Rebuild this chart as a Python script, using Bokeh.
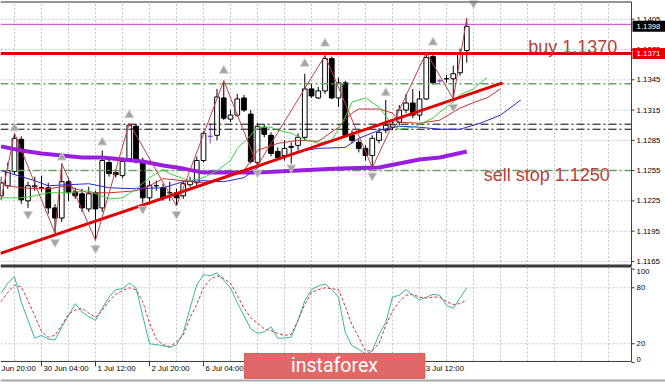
from bokeh.plotting import figure
from bokeh.models import Range1d
from bokeh.core.properties import value
from bokeh.embed import file_html
from bokeh.resources import INLINE

# ---------------- data (H4 bars, index 0 = 29 Jun 04:00) ----------------
bars = list(range(70))
opens = [1.1230, 1.1240, 1.1254, 1.1286, 1.1225, 1.1239, 1.1238, 1.1238, 1.1218, 1.1208,
         1.1244, 1.1234, 1.1232, 1.1217, 1.1233, 1.1218, 1.1263, 1.1253, 1.1250, 1.1267,
         1.1299, 1.1265, 1.1228, 1.1240, 1.1238, 1.1233, 1.1233, 1.1230, 1.1241, 1.1243,
         1.1265, 1.1289, 1.1290, 1.1327, 1.1306, 1.1310, 1.1327, 1.1311, 1.1263, 1.1298,
         1.1290, 1.1274, 1.1270, 1.1278, 1.1280, 1.1288, 1.1336, 1.1327, 1.1334, 1.1366,
         1.1327, 1.1342, 1.1290, 1.1283, 1.1277, 1.1270, 1.1285, 1.1295, 1.1298, 1.1303,
         1.1315, 1.1322, 1.1310, 1.1326, 1.1368, 1.1344, 1.1346, 1.1346, 1.1352, 1.1374]
highs = [1.1249, 1.1263, 1.1292, 1.1289, 1.1244, 1.1249, 1.1250, 1.1243, 1.1222, 1.1262,
         1.1248, 1.1238, 1.1237, 1.1239, 1.1235, 1.1275, 1.1267, 1.1256, 1.1267, 1.1302,
         1.1301, 1.1268, 1.1245, 1.1245, 1.1242, 1.1244, 1.1237, 1.1245, 1.1249, 1.1269,
         1.1294, 1.1302, 1.1336, 1.1344, 1.1315, 1.1331, 1.1330, 1.1315, 1.1302, 1.1301,
         1.1293, 1.1278, 1.1285, 1.1283, 1.1292, 1.1351, 1.1341, 1.1338, 1.1369, 1.1368,
         1.1347, 1.1344, 1.1295, 1.1286, 1.1280, 1.1290, 1.1297, 1.1325, 1.1305, 1.1320,
         1.1331, 1.1336, 1.1334, 1.1372, 1.1371, 1.1346, 1.1350, 1.1359, 1.1376, 1.1406]
lows = [1.1226, 1.1237, 1.1251, 1.1222, 1.1218, 1.1235, 1.1234, 1.1212, 1.1193, 1.1204,
        1.1225, 1.1227, 1.1214, 1.1214, 1.1186, 1.1214, 1.1249, 1.1248, 1.1247, 1.1265,
        1.1262, 1.1223, 1.1225, 1.1235, 1.1225, 1.1225, 1.1220, 1.1227, 1.1239, 1.1240,
        1.1263, 1.1282, 1.1285, 1.1305, 1.1303, 1.1308, 1.1313, 1.1262, 1.1260, 1.1288,
        1.1269, 1.1265, 1.1265, 1.1262, 1.1275, 1.1285, 1.1327, 1.1326, 1.1331, 1.1326,
        1.1318, 1.1288, 1.1282, 1.1273, 1.1265, 1.1258, 1.1282, 1.1292, 1.1295, 1.1300,
        1.1312, 1.1307, 1.1305, 1.1325, 1.1340, 1.1342, 1.1342, 1.1326, 1.1349, 1.1362]
closes = [1.1243, 1.1255, 1.1287, 1.1226, 1.1240, 1.1240, 1.1238, 1.1218, 1.1208, 1.1244,
          1.1233, 1.1230, 1.1218, 1.1232, 1.1217, 1.1265, 1.1252, 1.1251, 1.1264, 1.1300,
          1.1265, 1.1228, 1.1240, 1.1240, 1.1228, 1.1233, 1.1228, 1.1242, 1.1245, 1.1265,
          1.1292, 1.1289, 1.1328, 1.1307, 1.1310, 1.1326, 1.1315, 1.1264, 1.1299, 1.1291,
          1.1272, 1.1268, 1.1277, 1.1279, 1.1288, 1.1336, 1.1329, 1.1334, 1.1366, 1.1327,
          1.1342, 1.1290, 1.1285, 1.1277, 1.1270, 1.1287, 1.1293, 1.1300, 1.1301, 1.1315,
          1.1322, 1.1310, 1.1326, 1.1367, 1.1342, 1.1344, 1.1346, 1.1351, 1.1372, 1.1398]
# bars drawn in the chart's line colour (flat bars)
flat_bars = [31, 65]

# Alligator-style moving averages (bar index, price)
ma_blue_x = [0, 3, 5, 7, 10, 13, 16, 20, 24, 27, 30, 33, 36, 38, 41, 44, 47, 51, 53, 56, 59, 62, 65, 68, 71, 74, 77]
ma_blue_y = [1.1255, 1.1249, 1.1245, 1.1240, 1.1241, 1.1242, 1.1238, 1.1237, 1.1238, 1.1244, 1.1245, 1.1244,
             1.1248, 1.1258, 1.1267, 1.1274, 1.1277, 1.1278, 1.1287, 1.1295, 1.1299, 1.1298, 1.1296, 1.1296,
             1.1302, 1.1310, 1.1325]
ma_red_x = [0, 1, 3, 5, 7, 10, 11, 13, 16, 20, 22, 24, 27, 30, 33, 36, 38, 41, 44, 47, 50, 52, 53, 56, 58, 59,
            62, 65, 68, 71, 72, 74]
ma_red_y = [1.1243, 1.1240, 1.1238, 1.1237, 1.1237, 1.1240, 1.1237, 1.1233, 1.1233, 1.1235, 1.1240, 1.1247,
            1.1245, 1.1243, 1.1248, 1.1255, 1.1275, 1.1282, 1.1285, 1.1284, 1.1298, 1.1312, 1.1316, 1.1316,
            1.1312, 1.1303, 1.1302, 1.1305, 1.1317, 1.1325, 1.1327, 1.1336]
ma_green_x = [0, 3, 5, 7, 10, 13, 16, 18, 20, 22, 24, 25, 27, 28, 30, 32, 34, 35, 37, 38, 40, 41, 43, 45, 47,
              49, 51, 52, 54, 56, 58, 59, 61, 62, 64, 65, 67, 68, 70, 71, 72]
ma_green_y = [1.1228, 1.1228, 1.1230, 1.1233, 1.1233, 1.1235, 1.1227, 1.1228, 1.1237, 1.1248, 1.1256, 1.1252,
              1.1247, 1.1245, 1.1248, 1.1255, 1.1265, 1.1277, 1.1290, 1.1298, 1.1298, 1.1295, 1.1292, 1.1286,
              1.1282, 1.1285, 1.1308, 1.1323, 1.1327, 1.1318, 1.1300, 1.1296, 1.1298, 1.1301, 1.1307, 1.1313,
              1.1323, 1.1330, 1.1336, 1.1342, 1.1347]
ma_slow_x = [0, 3, 6, 9, 12, 15, 18, 21, 24, 27, 30, 33, 38, 44, 50, 56, 59, 62, 65, 69]
ma_slow_y = [1.1279, 1.1275, 1.1272, 1.1270, 1.1268, 1.1268, 1.1266, 1.1264, 1.1260, 1.1257, 1.1253, 1.1253,
             1.1253, 1.1255, 1.1257, 1.1258, 1.1262, 1.1266, 1.1268, 1.1274]

# ZigZag swing points
zz_x = [0, 2, 8, 9, 14, 19, 26, 33, 38, 48, 55, 63, 67, 69]
zz_y = [1.1226, 1.1292, 1.1193, 1.1262, 1.1186, 1.1302, 1.1220, 1.1344, 1.1260, 1.1369, 1.1258, 1.1372,
        1.1326, 1.1406]

# Fractal arrows
fr_up_x = [2, 9, 15, 19, 33, 45, 48, 57, 64]
fr_up_y = [1.1297, 1.1268, 1.1283, 1.1310, 1.1354, 1.1361, 1.1381, 1.1332, 1.1382]
fr_dn_x = [4, 8, 14, 21, 26, 38, 43, 55, 67, 70]
fr_dn_y = [1.1212, 1.1184, 1.1178, 1.1217, 1.1212, 1.1253, 1.1258, 1.1250, 1.1318, 1.1421]

# Trend line and levels
trend_x = [-0.07, 74.3]
trend_y = [1.1173, 1.1342]
level_bid = 1.1398
level_magenta = 1.1400
level_buy = 1.1371
level_green_hi = 1.1341
level_black = [1.1301, 1.1296]
level_green_lo = 1.1255
price_ticks = [1.1165, 1.1195, 1.1225, 1.1255, 1.1285, 1.1315, 1.1345, 1.1375, 1.1405]
price_labels = ["1.1165", "1.1195", "1.1225", "1.1255", "1.1285", "1.1315", "1.1345", "1.1375", "1.1405"]

# Stochastic oscillator
stoch_k = [74, 85, 92, 65, 45, 26, 29, 25, 24, 38, 50, 63, 54, 49, 45, 58, 70, 78, 79, 85,
           80, 50, 20, 19, 18, 16, 19, 32, 58, 83, 94, 93, 96, 88, 80, 64, 50, 36, 31, 33,
           38, 26, 26, 27, 45, 66, 78, 82, 84, 78, 70, 32, 18, 14, 9, 12, 30, 43, 70, 72,
           78, 72, 67, 70, 73, 72, 61, 58, 69, 80]
stoch_d = [65, 75, 83, 81, 66, 50, 33, 27, 29, 40, 52, 56, 58, 53, 48, 56, 66, 73, 77, 80,
           78, 65, 42, 25, 19, 17, 22, 29, 48, 62, 80, 89, 93, 90, 85, 72, 58, 48, 42, 36,
           34, 31, 29, 30, 45, 62, 75, 78, 80, 79, 78, 60, 40, 27, 12, 13, 20, 40, 55, 65,
           72, 73, 70, 69, 70, 70, 65, 62, 63, 67]
stoch_levels = [20, 80]
time_ticks = [6, 14, 22, 30, 38, 46, 54, 62]
time_labels = ["30 Jun 04:00", "1 Jul 12:00", "2 Jul 20:00", "6 Jul 04:00",
               "7 Jul 12:00", "8 Jul 20:00", "10 Jul 04:00", "13 Jul 12:00"]
first_time_label = "Jun 20:00"

# ---------------- layout constants (positions, not data) ----------------
FONT = "Liberation Sans"
GRID = "#c4c4c4"
BORDER = "#3a3a3a"
X0, XR, XEND = -0.074, 93.41, 98.44          # left edge, chart right border, canvas right edge (bars)
PR_TOP, PR_BOT = 1.14221, 1.11605            # price panel borders
ST_TOP, ST_BOT = 101.6, 1.0                  # stochastic panel borders
AX_LABEL_X = 94.15
vgrid = list(range(2, 92, 4))

p = figure(width=665, height=384, output_backend="svg", toolbar_location=None,
           x_range=Range1d(X0, XEND), y_range=Range1d(1.10430, 1.14236),
           x_axis_location=None, y_axis_location=None, min_border=0)
p.extra_y_ranges = {"stoch": Range1d(-23.7, 388.0)}
p.grid.visible = False
p.outline_line_color = None
p.background_fill_color = "white"
p.border_fill_color = "white"

# ---- grids ----
p.segment(x0=vgrid, y0=[PR_BOT] * len(vgrid), x1=vgrid, y1=[PR_TOP] * len(vgrid),
          line_color=GRID, line_dash="2 2", line_width=1)
p.segment(x0=[X0] * len(price_ticks), y0=price_ticks, x1=[XR] * len(price_ticks), y1=price_ticks,
          line_color=GRID, line_dash="2 2", line_width=1)
p.segment(x0=vgrid, y0=[ST_BOT] * len(vgrid), x1=vgrid, y1=[ST_TOP] * len(vgrid),
          line_color=GRID, line_dash="2 2", line_width=1, y_range_name="stoch")
p.segment(x0=[X0] * 2, y0=stoch_levels, x1=[XR] * 2, y1=stoch_levels,
          line_color=GRID, line_dash="2 2", line_width=1, y_range_name="stoch")

# ---- candles ----
FLAT = "#8a4fc8"
wick_colors = [FLAT if i in flat_bars else "black" for i in bars]
bull = [i for i in bars if closes[i] >= opens[i]]
bear = [i for i in bars if closes[i] < opens[i]]
p.segment(x0=bars, y0=lows, x1=bars, y1=highs, line_color=wick_colors, line_width=1)
p.vbar(x=[bars[i] for i in bull], width=0.7, top=[closes[i] for i in bull],
       bottom=[opens[i] for i in bull], fill_color="white",
       line_color=[wick_colors[i] for i in bull], line_width=1)
p.vbar(x=[bars[i] for i in bear], width=0.7, top=[opens[i] for i in bear],
       bottom=[closes[i] for i in bear], fill_color="black", line_color="black", line_width=1)

# ---- horizontal levels ----
p.segment(x0=X0, y0=level_magenta, x1=XR, y1=level_magenta, line_color="#c838c8", line_width=1)
p.segment(x0=X0, y0=level_buy, x1=XR, y1=level_buy, line_color="#e00000", line_width=3)
for lv in [level_green_hi, level_green_lo]:
    p.segment(x0=X0, y0=lv, x1=XR, y1=lv, line_color="#6a9e6a", line_width=1.5, line_dash="8 3 2 3")
for lv in level_black:
    p.segment(x0=X0, y0=lv, x1=XR, y1=lv, line_color="black", line_width=1, line_dash="8 3 2 3")

# ---- moving averages ----
p.line(ma_slow_x, ma_slow_y, line_color="#9a1ee0", line_width=4)
p.line(ma_blue_x, ma_blue_y, line_color="#2a2ad0", line_width=1)
p.line(ma_red_x, ma_red_y, line_color="#c83232", line_width=1)
p.line(ma_green_x, ma_green_y, line_color="#3ad23a", line_width=1)

# ---- trend line, zigzag, fractals ----
p.line(trend_x, trend_y, line_color="#e00000", line_width=3)
p.line(zz_x, zz_y, line_color="#c04040", line_width=1)
p.scatter(fr_up_x, fr_up_y, marker="triangle", size=9, fill_color="#a4a4a4", line_color="#cfcfcf")
p.scatter(fr_dn_x, fr_dn_y, marker="inverted_triangle", size=9, fill_color="#a4a4a4", line_color="#cfcfcf")

# ---- annotations on the chart ----
p.text(x=[78.1], y=[1.13778], text=["buy 1.1370"], text_font=value(FONT), text_font_size="18px",
       text_color="#b5403a", text_baseline="alphabetic")
p.text(x=[71.5], y=[1.12507], text=["sell stop 1.1250"], text_font=value(FONT), text_font_size="18px",
       text_color="#b5403a", text_baseline="alphabetic")

# ---- stochastic ----
p.line(bars, stoch_k, line_color="#3cb4a4", line_width=1, y_range_name="stoch")
p.line(bars, stoch_d, line_color="#d03a3a", line_width=1, line_dash="3 2", y_range_name="stoch")

# ---- borders ----
p.segment(x0=X0, y0=PR_TOP, x1=XR, y1=PR_TOP, line_color="#707070", line_width=1.5)
p.segment(x0=X0, y0=PR_BOT, x1=XR, y1=PR_BOT, line_color=BORDER, line_width=3)
p.segment(x0=XR, y0=PR_TOP, x1=XR, y1=PR_BOT, line_color=BORDER, line_width=1)
p.segment(x0=XR, y0=ST_BOT, x1=XR, y1=ST_TOP, line_color=BORDER, line_width=1, y_range_name="stoch")
p.segment(x0=X0, y0=ST_BOT, x1=XR, y1=ST_BOT, line_color=BORDER, line_width=1, y_range_name="stoch")
p.segment(x0=X0, y0=-19.3, x1=XEND, y1=-19.3, line_color="#a8a8a8", line_width=2, y_range_name="stoch")

# ---- price axis (right) ----
p.segment(x0=[XR] * len(price_ticks), y0=price_ticks, x1=[XR + 0.45] * len(price_ticks), y1=price_ticks,
          line_color=BORDER, line_width=1)
p.text(x=[AX_LABEL_X] * len(price_ticks), y=price_ticks, text=price_labels, text_font=value(FONT),
       text_font_size="7.8px", text_color="black", text_baseline="middle", text_align="left")
# price tags
p.rect(x=[96.0, 96.0], y=[level_bid, level_buy], width=33, height=11, width_units="screen",
       height_units="screen", fill_color=["black", "#e00000"], line_color=None)
p.text(x=[AX_LABEL_X, AX_LABEL_X], y=[level_bid, level_buy], text=["1.1398", "1.1371"], text_font=value(FONT),
       text_font_size="7.8px", text_color="white", text_baseline="middle", text_align="left")

# ---- stochastic axis (right) ----
p.segment(x0=[XR] * 4, y0=[0, 20, 80, 100], x1=[XR + 0.45] * 4, y1=[0, 20, 80, 100],
          line_color=BORDER, line_width=1, y_range_name="stoch")
p.text(x=[AX_LABEL_X], y=[100], text=["100"], text_font=value(FONT), text_font_size="7.8px",
       text_baseline="top", text_align="left", y_range_name="stoch")
p.text(x=[AX_LABEL_X] * 2, y=stoch_levels, text=["20", "80"], text_font=value(FONT), text_font_size="7.8px",
       text_baseline="middle", text_align="left", y_range_name="stoch")
p.text(x=[AX_LABEL_X], y=[0], text=["0"], text_font=value(FONT), text_font_size="7.8px",
       text_baseline="bottom", text_align="left", y_range_name="stoch")

# ---- time axis (bottom) ----
p.segment(x0=time_ticks, y0=[ST_BOT] * len(time_ticks), x1=time_ticks, y1=[-4.3] * len(time_ticks),
          line_color=BORDER, line_width=1, y_range_name="stoch")
p.text(x=time_ticks, y=[-6.4] * len(time_ticks), text=time_labels, text_font=value(FONT),
       text_font_size="7.8px", text_color="black", text_baseline="middle", text_align="left",
       x_offset=2, y_range_name="stoch")
p.text(x=[X0], y=[-6.4], text=[first_time_label], text_font=value(FONT),
       text_font_size="7.8px", text_color="black", text_baseline="middle", text_align="left",
       x_offset=1, y_range_name="stoch")

# ---- watermark ----
p.quad(left=[36.07], right=[62.8], top=[9.6], bottom=[-17.1], fill_color="#e16868", line_color="#d45c5c",
       y_range_name="stoch")
p.text(x=[49.4], y=[-3.8], text=["instaforex"], text_font=value("Roboto"), text_font_size="19.5px",
       text_color="white", text_baseline="middle", text_align="center", y_range_name="stoch")

open("out.html", "w").write(file_html(p, INLINE))
